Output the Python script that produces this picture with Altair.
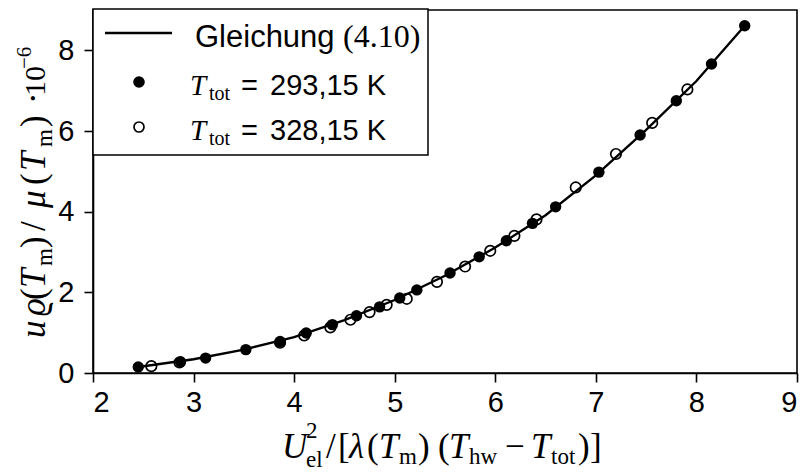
import altair as alt
import pandas as pd

# ---- data ----
line_x = [2.45, 3.0, 3.5, 4.0, 4.5, 5.0, 5.5, 6.0, 6.5, 7.0, 7.5, 8.0, 8.48]
line_y = [0.15, 0.34, 0.58, 0.89, 1.31, 1.81, 2.41, 3.11, 3.91, 4.90, 6.03, 7.24, 8.61]

f_x = [2.45, 2.87, 3.12, 3.52, 3.86, 4.12, 4.38, 4.62, 4.85, 5.05, 5.22,
       5.55, 5.84, 6.11, 6.37, 6.60, 7.03, 7.44, 7.80, 8.15, 8.48]
f_y = [0.15, 0.28, 0.37, 0.58, 0.78, 0.99, 1.20, 1.42, 1.64, 1.86, 2.06,
       2.48, 2.88, 3.28, 3.71, 4.12, 4.98, 5.90, 6.75, 7.66, 8.61]

o_x = [2.58, 2.86, 3.86, 4.10, 4.36, 4.56, 4.75, 4.92, 5.12, 5.42, 5.70,
       5.95, 6.19, 6.41, 6.80, 7.20, 7.56, 7.91]
o_y = [0.17, 0.26, 0.75, 0.93, 1.13, 1.32, 1.51, 1.69, 1.84, 2.26, 2.64,
       3.03, 3.40, 3.81, 4.60, 5.43, 6.20, 7.03]

x_ticks = [2, 3, 4, 5, 6, 7, 8, 9]
y_ticks = [0, 2, 4, 6, 8]

# ---- layout ----
W, H = 704, 363
PAD_L, PAD_T = 93, 10
SERIF = "Liberation Serif, Times New Roman, DejaVu Serif"
SANS = "Liberation Sans, Arial, Helvetica"
BIG, SUB = 35, 23
LEG, LSUB = 29, 20

df_line = pd.DataFrame({"x": line_x, "y": line_y})
df_f = pd.DataFrame({"x": f_x, "y": f_y})
df_o = pd.DataFrame({"x": o_x, "y": o_y})
one = pd.DataFrame({"k": [0]})

xaxis = alt.Axis(values=x_ticks, title=None, grid=False, format="d", labelPadding=6)
yaxis = alt.Axis(values=y_ticks, title=None, grid=False, format="d", labelPadding=10)
xs = alt.Scale(domain=[2, 9], nice=False, zero=False)
ys = alt.Scale(domain=[0, 9], nice=False, zero=False)


def X():
    return alt.X("x:Q", scale=xs, axis=xaxis)


def Y():
    return alt.Y("y:Q", scale=ys, axis=yaxis)


def txt(s, ix, iy, size, font=SERIF, style="normal", angle=0):
    """text piece placed at image pixel coordinates (ix, iy) = baseline start"""
    kw = dict(text=s, font=font, fontSize=size, fontStyle=style,
              align="left", baseline="alphabetic", color="black")
    if angle:
        kw["angle"] = angle
    return alt.Chart(one).mark_text(**kw).encode(
        x=alt.value(ix - PAD_L), y=alt.value(iy - PAD_T))


line = alt.Chart(df_line).mark_line(color="black", strokeWidth=2.4).encode(x=X(), y=Y())
filled = alt.Chart(df_f).mark_point(shape="circle", filled=True, size=130,
                                    color="black", opacity=1).encode(x=X(), y=Y())
opened = alt.Chart(df_o).mark_point(shape="circle", filled=False, size=110,
                                    color="black", strokeWidth=1.7, opacity=1).encode(x=X(), y=Y())

layers = [line, filled, opened]

# ---- legend ----
layers.append(alt.Chart(one).mark_rect(fill="white", stroke="black", strokeWidth=1.5).encode(
    x=alt.value(0), x2=alt.value(335), y=alt.value(-1), y2=alt.value(145)))
layers.append(alt.Chart(one).mark_rule(color="black", strokeWidth=2.4).encode(
    x=alt.value(12), x2=alt.value(79), y=alt.value(23)))
layers.append(alt.Chart(one).mark_point(shape="circle", filled=True, size=135, color="black",
                                        opacity=1).encode(x=alt.value(46), y=alt.value(72)))
layers.append(alt.Chart(one).mark_point(shape="circle", filled=False, size=100, color="black",
                                        strokeWidth=1.7, opacity=1).encode(x=alt.value(46), y=alt.value(117)))
layers += [
    txt("Gleichung", 195, 47, 31, font=SANS),
    txt("(4.10)", 343, 47, 32),
    txt("T", 190, 95, LEG, style="italic"),
    txt("tot", 209, 100, LSUB),
    txt("=", 241, 95, LEG, font=SANS),
    txt("293,15 K", 270, 95, LEG, font=SANS),
    txt("T", 190, 140, LEG, style="italic"),
    txt("tot", 209, 145, LSUB),
    txt("=", 241, 140, LEG, font=SANS),
    txt("328,15 K", 270, 140, LEG, font=SANS),
]

# ---- x axis title ----
xb = 458
layers += [
    txt("U", 282, xb, BIG, style="italic"),
    txt("2", 306, xb - 20, SUB),
    txt("el", 306, xb + 9, SUB),
    txt("/", 326, xb, BIG),
    txt("[", 338, xb, BIG),
    txt("λ", 349, xb, BIG, style="italic"),
    txt("(", 367, xb, BIG),
    txt("T", 379, xb, BIG, style="italic"),
    txt("m", 399, xb + 6, SUB),
    txt(")", 418, xb, BIG),
    txt("(", 438, xb, BIG),
    txt("T", 449, xb, BIG, style="italic"),
    txt("hw", 469, xb + 6, SUB),
    txt("−", 505, xb, BIG),
    txt("T", 531, xb, BIG, style="italic"),
    txt("tot", 551, xb + 6, SUB),
    txt(")", 578, xb, BIG),
    txt("]", 590, xb, BIG),
]

# ---- y axis title (rotated) ----
yb = 45
layers += [
    txt("u", yb, 338, BIG, style="italic", angle=270),
    txt("ϱ", yb, 316, BIG, style="italic", angle=270),
    txt("(", yb, 300, BIG, angle=270),
    txt("T", yb, 288, BIG, style="italic", angle=270),
    txt("m", yb + 7, 266, SUB, angle=270),
    txt(")", yb, 248, BIG, angle=270),
    txt("/", yb, 231, BIG, angle=270),
    txt("μ", yb, 208, BIG, style="italic", angle=270),
    txt("(", yb, 185, BIG, angle=270),
    txt("T", yb, 171, BIG, style="italic", angle=270),
    txt("m", yb + 7, 147, SUB, angle=270),
    txt(")", yb, 127, BIG, angle=270),
    txt("·", yb, 104, BIG, angle=270),
    txt("10", yb, 96, 30, angle=270),
    txt("−6", yb - 14, 69, 21, angle=270),
]

chart = alt.layer(*layers).properties(
    width=W, height=H,
    padding={"left": PAD_L, "top": PAD_T, "right": 806 - PAD_L - W, "bottom": 473 - PAD_T - H},
    autosize=alt.AutoSizeParams(type="none"),
).configure_view(
    stroke="black", strokeWidth=1.6
).configure_axis(
    domainColor="black", domainWidth=1.6, tickColor="black", tickWidth=1.6, tickSize=9,
    labelFont=SANS, labelFontSize=29, labelColor="black",
)

chart.save("out.html", embed_options={"renderer": "svg", "actions": False})
